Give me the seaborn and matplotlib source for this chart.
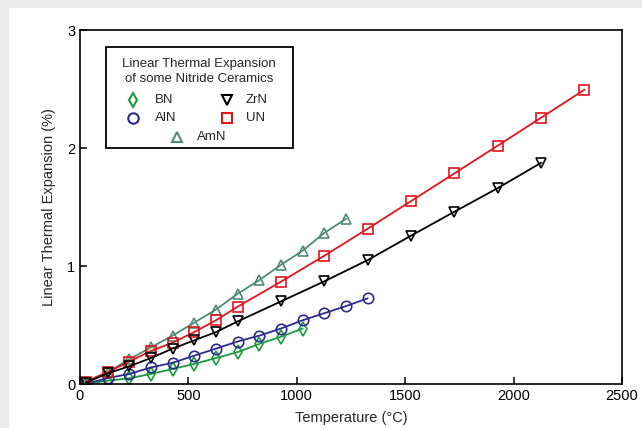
import matplotlib
matplotlib.use('Agg')
import matplotlib.pyplot as plt
from matplotlib.patches import Rectangle
import seaborn as sns

# temperatures (deg C)
t_bn = [27, 127, 227, 327, 427, 527, 627, 727, 827, 927, 1027]
t_aln = [27, 127, 227, 327, 427, 527, 627, 727, 827, 927, 1027, 1127, 1227, 1327]
t_amn = [27, 127, 227, 327, 427, 527, 627, 727, 827, 927, 1027, 1127, 1227]
t_zrn = [27, 127, 227, 327, 427, 527, 627, 727, 927, 1127, 1327, 1527, 1727, 1927, 2127]
t_un = [27, 127, 227, 327, 427, 527, 627, 727, 927, 1127, 1327, 1527, 1727, 1927, 2127, 2327]

# linear thermal expansion (%)
bn = [0.0, 0.028, 0.048, 0.085, 0.127, 0.17, 0.22, 0.27, 0.34, 0.40, 0.47]
aln = [0.0, 0.05, 0.085, 0.14, 0.18, 0.24, 0.30, 0.36, 0.41, 0.47, 0.54, 0.60, 0.66, 0.726]
amn = [0.02, 0.10, 0.21, 0.31, 0.41, 0.52, 0.63, 0.765, 0.88, 1.01, 1.13, 1.28, 1.40]
zrn = [0.01, 0.09, 0.15, 0.22, 0.30, 0.37, 0.44, 0.53, 0.70, 0.87, 1.05, 1.257, 1.46, 1.66, 1.875]
un = [0.02, 0.10, 0.19, 0.28, 0.35, 0.44, 0.54, 0.655, 0.867, 1.087, 1.316, 1.55, 1.785, 2.02, 2.257, 2.494]

x_ticks = [0, 500, 1000, 1500, 2000, 2500]
y_ticks = [0, 1, 2, 3]

sns.set_style('ticks')
plt.rcParams['font.family'] = ['Liberation Sans', 'DejaVu Sans']

fig = plt.figure(figsize=(6.42, 4.28), dpi=100, facecolor='#ebebeb')
# white panel with a grey strip on top and left
fig.patches.append(Rectangle((9 / 642, 0), 1, 1 - 8 / 428, transform=fig.transFigure,
                             facecolor='white', edgecolor='none', zorder=-10))
ax = fig.add_axes([80 / 642, 44 / 428, 542 / 642, 354 / 428])
ax.set_facecolor('white')

series = [
    ('BN', t_bn, bn, 'd', '#1a9a3c'),
    ('AlN', t_aln, aln, 'o', '#2c2a8c'),
    ('AmN', t_amn, amn, '^', '#4e8b78'),
    ('UN', t_un, un, 's', '#e3141b'),
    ('ZrN', t_zrn, zrn, 'v', '#000000'),
]
for name, t, v, m, c in series:
    sns.lineplot(x=t, y=v, ax=ax, color=c, marker=m, markersize=7.5,
                 markerfacecolor='none', markeredgecolor=c, markeredgewidth=1.2,
                 linewidth=1.3, sort=False, estimator=None)

ax.set_xlim(0, 2500)
ax.set_ylim(0, 3)
ax.set_xticks(x_ticks)
ax.set_yticks(y_ticks)
ax.tick_params(direction='in', length=5, width=1.1, labelsize=10.5, colors='black',
               top=False, right=False)
for s in ax.spines.values():
    s.set_visible(True)
    s.set_linewidth(1.2)
    s.set_color('black')
ax.set_xlabel('Temperature (°C)', fontsize=10.5, labelpad=6)
ax.set_ylabel('Linear Thermal Expansion (%)', fontsize=10.5, labelpad=8)

# hand-made legend box
ax.add_patch(Rectangle((0.048, 0.667), 0.345, 0.285, transform=ax.transAxes,
                       facecolor='white', edgecolor='black', linewidth=1.3, zorder=5))
ax.text(0.2196, 0.905, 'Linear Thermal Expansion', transform=ax.transAxes,
        ha='center', va='center', fontsize=9.5, zorder=6)
ax.text(0.2196, 0.862, 'of some Nitride Ceramics', transform=ax.transAxes,
        ha='center', va='center', fontsize=9.5, zorder=6)
legend_items = [
    ('BN', 'd', '#1a9a3c', 0.0978, 0.1384, 0.802),
    ('AlN', 'o', '#2c2a8c', 0.0978, 0.1384, 0.751),
    ('ZrN', 'v', '#000000', 0.271, 0.306, 0.802),
    ('UN', 's', '#e3141b', 0.271, 0.306, 0.751),
    ('AmN', '^', '#4e8b78', 0.179, 0.2164, 0.698),
]
for name, m, c, mx, tx, y in legend_items:
    ax.plot([mx], [y], transform=ax.transAxes, marker=m, markersize=7.5,
            markerfacecolor='none', markeredgecolor=c, markeredgewidth=1.5,
            linestyle='none', zorder=6, clip_on=False)
    ax.text(tx, y, name, transform=ax.transAxes, ha='left', va='center',
            fontsize=9.5, zorder=6)

fig.savefig('out.png', dpi=100, facecolor=fig.get_facecolor())
